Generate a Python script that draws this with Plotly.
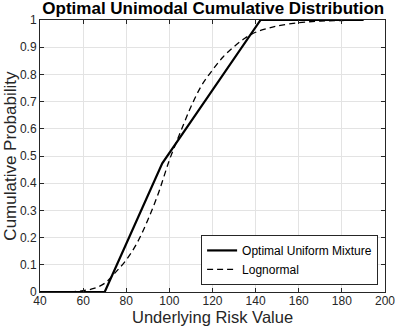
import plotly.graph_objects as go

# Optimal uniform mixture CDF (piecewise linear)
mix_x = [40, 70, 96.7, 142.3, 190]
mix_y = [0, 0, 0.473, 1.0, 1.0]

# Lognormal CDF
logn_x = [40, 50, 55, 60, 65, 70, 75, 80, 85, 90, 95, 100, 105, 110, 115, 120,
          125, 130, 135, 140, 145, 150, 160, 170, 180, 190]
logn_y = [0, 0, 0.001, 0.005, 0.013, 0.032, 0.072, 0.118, 0.180, 0.265, 0.365,
          0.485, 0.585, 0.681, 0.760, 0.816, 0.865, 0.902, 0.933, 0.955, 0.968,
          0.978, 0.990, 0.996, 0.998, 1.0]

x_ticks = [40, 60, 80, 100, 120, 140, 160, 180, 200]
y_ticks = [0, 0.1, 0.2, 0.3, 0.4, 0.5, 0.6, 0.7, 0.8, 0.9, 1]
y_labels = ["0", "0.1", "0.2", "0.3", "0.4", "0.5", "0.6", "0.7", "0.8", "0.9", "1"]

font_family = "Liberation Sans, Arial"

fig = go.Figure()
fig.add_trace(go.Scatter(x=mix_x, y=mix_y, mode="lines", name="Optimal Uniform Mixture",
                         line=dict(color="black", width=2.2)))
fig.add_trace(go.Scatter(x=logn_x, y=logn_y, mode="lines", name="Lognormal",
                         line=dict(color="black", width=1.3, dash="6px,4px"),
                         line_shape="spline"))

axis_common = dict(showgrid=True, gridcolor="#e3e3e3", gridwidth=1,
                   showline=True, linecolor="#262626", linewidth=1, mirror="allticks",
                   ticks="inside", ticklen=4, tickcolor="#262626", zeroline=False,
                   ticklabeloverflow="allow",
                   tickfont=dict(size=12, color="#262626", family=font_family))

fig.update_xaxes(range=[40, 200], tickvals=x_ticks, ticklabelstandoff=-2, **axis_common)
fig.update_yaxes(range=[0, 1], tickvals=y_ticks, ticktext=y_labels, **axis_common)

# axis titles as annotations so they sit where the reference has them
fig.add_annotation(text="Underlying Risk Value", xref="paper", yref="paper",
                   x=0.5, y=-0.092, xanchor="center", yanchor="middle", showarrow=False,
                   font=dict(size=16.5, color="#262626", family=font_family))
fig.add_annotation(text="Cumulative Probability", xref="paper", yref="paper",
                   x=-0.088, y=0.5, xanchor="center", yanchor="middle", showarrow=False,
                   textangle=-90,
                   font=dict(size=17, color="#262626", family=font_family))

fig.update_layout(
    width=395, height=326,
    margin=dict(l=40, r=10, t=20, b=34, autoexpand=False),
    paper_bgcolor="white", plot_bgcolor="white",
    title=dict(text="<b>Optimal Unimodal Cumulative Distribution</b>", x=0.54, xanchor="center",
               y=0.994, yanchor="top",
               font=dict(size=17, color="black", family=font_family)),
    legend=dict(x=0.98, y=0.026, xanchor="right", yanchor="bottom",
                bgcolor="white", bordercolor="#262626", borderwidth=1,
                font=dict(size=12, color="black", family=font_family),
                tracegroupgap=0, itemwidth=30),
    showlegend=True,
)

# drop the page's default body margin so the figure sits at the window corner
fig.write_html("out.html", config={"displayModeBar": False},
               post_script="document.body.style.margin='0';")
